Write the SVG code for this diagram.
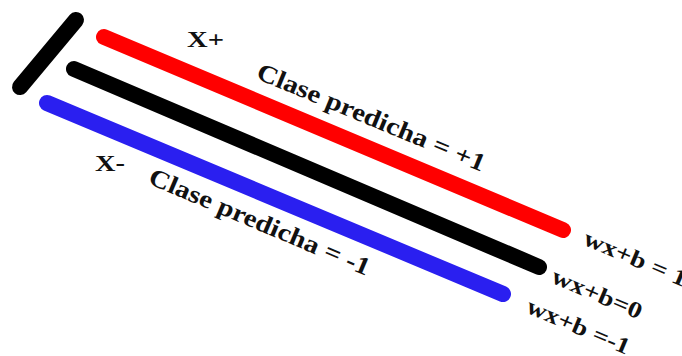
<svg xmlns="http://www.w3.org/2000/svg" width="682" height="356" viewBox="0 0 682 356">
<style>
.ln{stroke-linecap:round;fill:none;stroke-width:16}
.t{font-family:"Liberation Serif","Times New Roman",serif;font-weight:bold;fill:#111}
</style>
<rect width="682" height="356" fill="#fff"/>
<g id="connectors">
<line class="ln" x1="76" y1="20" x2="20" y2="87" stroke="#000"/>
<line class="ln" x1="104" y1="37" x2="563" y2="230" stroke="#f00"/>
<line class="ln" x1="74" y1="69" x2="539" y2="267" stroke="#000"/>
<line class="ln" x1="47" y1="103" x2="503" y2="294" stroke="#2a1ff0"/>
</g>
<g id="labels">
<text class="t" x="187" y="47" font-size="23" textLength="37" lengthAdjust="spacingAndGlyphs">X+</text>
<text class="t" x="95" y="171" font-size="23" textLength="30" lengthAdjust="spacingAndGlyphs">X-</text>
<text class="t" font-size="25" transform="translate(255,78) rotate(22.5)" textLength="245" lengthAdjust="spacingAndGlyphs">Clase predicha = +1</text>
<text class="t" font-size="25" transform="translate(147,183) rotate(23)" textLength="238" lengthAdjust="spacingAndGlyphs">Clase predicha = -1</text>
<text class="t" font-size="23" transform="translate(582,244) rotate(23)" textLength="110" lengthAdjust="spacingAndGlyphs">wx+b = 1</text>
<text class="t" font-size="23" transform="translate(550,282) rotate(23)" textLength="96" lengthAdjust="spacingAndGlyphs">wx+b=0</text>
<text class="t" font-size="23" transform="translate(525,312) rotate(23)" textLength="110" lengthAdjust="spacingAndGlyphs">wx+b =-1</text>
</g>
</svg>
